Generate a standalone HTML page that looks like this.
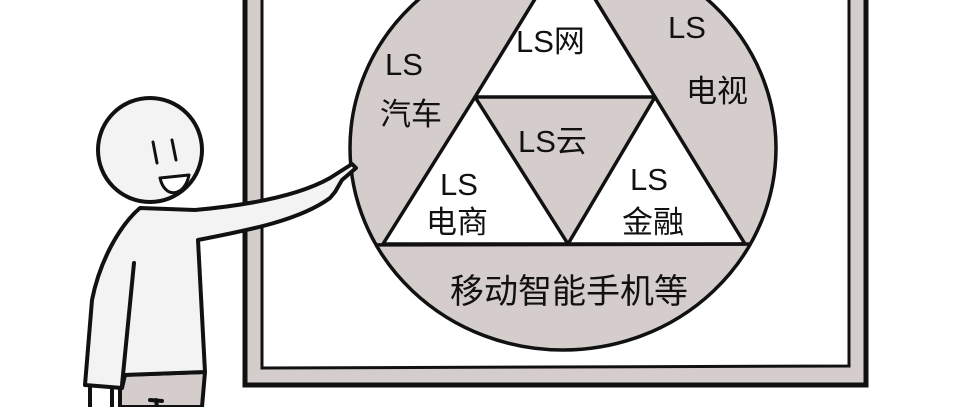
<!DOCTYPE html>
<html><head><meta charset="utf-8"><style>
html,body{margin:0;padding:0;background:#fff;}
svg{display:block}
text{font-family:"Liberation Sans","WenQuanYi Zen Hei","Noto Sans CJK SC",sans-serif;fill:#111;}
</style></head><body>
<svg width="956" height="407" viewBox="0 0 956 407" xmlns="http://www.w3.org/2000/svg">
<defs><clipPath id="c"><ellipse cx="563" cy="148" rx="213" ry="202"/></clipPath></defs>
<path d="M245 -5 L245 385 L866 385 L866 -5 Z" fill="#d5cdcc" stroke="#111" stroke-width="5"/>
<path d="M262 -5 L262 368 L849 366 L849 -5 Z" fill="#fff" stroke="#111" stroke-width="3"/>
<ellipse cx="563" cy="148" rx="213" ry="202" fill="#d5cdcc" stroke="#111" stroke-width="3.5"/>
<g clip-path="url(#c)" stroke="#111" stroke-width="3.5" stroke-linejoin="round">
<polygon points="565,-50 475,97 655,97" fill="#fff"/>
<polygon points="475,97 383,244 568,244" fill="#fff"/>
<polygon points="655,97 568,244 745,244" fill="#fff"/>
<line x1="340" y1="245" x2="790" y2="244"/>
</g>
<g font-size="31">
<text x="385" y="75">LS</text>
<text x="380" y="125">汽车</text>
<text x="516" y="52">LS网</text>
<text x="668" y="38">LS</text>
<text x="686" y="102">电视</text>
<text x="518" y="152">LS云</text>
<text x="440" y="195">LS</text>
<text x="426" y="233">电商</text>
<text x="630" y="190">LS</text>
<text x="622" y="233">金融</text>
<text x="450" y="303" font-size="34">移动智能手机等</text>
</g>
<g stroke="#111" stroke-width="4" stroke-linejoin="round" stroke-linecap="round">
<path d="M120 375 L205 372 L202 407 L120 407 Z" fill="#d5cdcc"/>
<path d="M140 208 C120 225 100 260 92 300 L85 385 L122 388 L125 375 L205 372 L198 240 C250 230 300 220 330 198 L335 192 L342 180 L356 168 L352 164 L330 178 C300 195 250 205 195 210 Z" fill="#f4f3f3"/>
<line x1="134" y1="263" x2="122" y2="385"/>
<line x1="90" y1="388" x2="90" y2="407"/>
<line x1="112" y1="388" x2="112" y2="407"/>
<circle cx="150" cy="150" r="52" fill="#f4f3f3"/>
<path d="M153 142 L157 163 M172 140 L176 160" fill="none" stroke-width="3"/>
<path d="M160 178 C165 200 185 196 189 175 Z" fill="#fff" stroke-width="3"/>
<path d="M150 400 L162 401 M156 400 L157 407" fill="none" stroke-width="4"/>
</g>
</svg>
</body></html>
